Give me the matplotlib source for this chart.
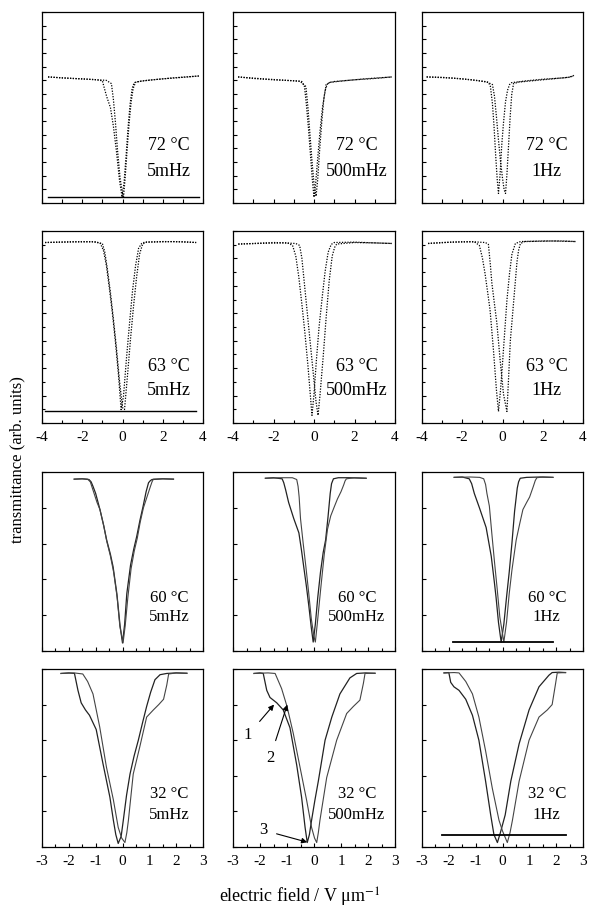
import matplotlib.pyplot as plt
from matplotlib.ticker import MultipleLocator, NullFormatter

plt.rcParams['font.family'] = ['Liberation Serif', 'DejaVu Serif']
plt.rcParams['mathtext.fontset'] = 'stix'
plt.rcParams['axes.unicode_minus'] = False

# 面板标签
temps = ['72 °C', '63 °C', '60 °C', '32 °C']
freqs = ['5mHz', '500mHz', '1Hz']

# ---- 72 °C ----
e72_5a = [-3.7, -3.0, -2.0, -1.3, -1.0, -0.9, -0.78, -0.6, -0.45, -0.3, -0.15, -0.02, 0.08, 0.18, 0.28, 0.38, 0.48, 0.58, 0.8, 1.5, 2.5, 3.8]
t72_5a = [0.660, 0.655, 0.650, 0.645, 0.640, 0.600, 0.555, 0.500, 0.400, 0.270, 0.120, 0.030, 0.110, 0.250, 0.400, 0.520, 0.600, 0.630, 0.636, 0.645, 0.655, 0.665]
e72_5b = [-3.7, -2.5, -1.5, -0.8, -0.55, -0.45, -0.35, -0.25, -0.12, 0.0, 0.05, 0.13, 0.23, 0.33, 0.43, 0.53, 0.65, 1.0, 2.0, 3.0, 3.8]
t72_5b = [0.660, 0.652, 0.647, 0.642, 0.625, 0.540, 0.420, 0.280, 0.130, 0.050, 0.030, 0.130, 0.280, 0.420, 0.530, 0.600, 0.632, 0.640, 0.650, 0.658, 0.665]

e72_500a = [-3.75, -3.0, -2.0, -1.0, -0.6, -0.47, -0.38, -0.28, -0.18, -0.08, 0.0, 0.08, 0.18, 0.3, 0.42, 0.55, 0.68, 1.0, 2.0, 3.0, 3.85]
t72_500a = [0.660, 0.652, 0.645, 0.640, 0.636, 0.610, 0.520, 0.400, 0.260, 0.120, 0.030, 0.100, 0.230, 0.380, 0.500, 0.590, 0.628, 0.636, 0.645, 0.652, 0.660]
e72_500b = [-3.75, -2.5, -1.5, -0.7, -0.4, -0.3, -0.2, -0.1, 0.0, 0.1, 0.18, 0.28, 0.38, 0.48, 0.6, 0.8, 1.5, 2.5, 3.85]
t72_500b = [0.660, 0.650, 0.643, 0.638, 0.610, 0.500, 0.360, 0.220, 0.100, 0.035, 0.120, 0.280, 0.420, 0.540, 0.620, 0.632, 0.640, 0.650, 0.660]

e72_1a = [-3.77, -3.0, -2.0, -1.2, -0.7, -0.6, -0.5, -0.42, -0.34, -0.26, -0.2, -0.12, -0.04, 0.05, 0.15, 0.25, 0.35, 0.45, 0.6, 1.2, 2.0, 3.0, 3.4, 3.55]
t72_1a = [0.660, 0.658, 0.650, 0.640, 0.632, 0.610, 0.520, 0.400, 0.250, 0.120, 0.050, 0.150, 0.300, 0.420, 0.530, 0.590, 0.620, 0.630, 0.632, 0.640, 0.648, 0.655, 0.660, 0.668]
e72_1b = [-3.77, -2.5, -1.5, -0.8, -0.5, -0.4, -0.3, -0.2, -0.1, 0.0, 0.08, 0.15, 0.22, 0.3, 0.38, 0.46, 0.55, 0.8, 1.5, 2.5, 3.3, 3.55]
t72_1b = [0.660, 0.654, 0.645, 0.635, 0.620, 0.560, 0.450, 0.330, 0.220, 0.130, 0.070, 0.050, 0.150, 0.300, 0.450, 0.570, 0.625, 0.633, 0.640, 0.650, 0.658, 0.668]

# ---- 63 °C ----
e63_5a = [-3.85, -3.0, -2.0, -1.3, -1.1, -0.95, -0.8, -0.65, -0.5, -0.35, -0.2, -0.07, 0.05, 0.2, 0.35, 0.5, 0.65, 0.8, 0.95, 1.1, 2.0, 3.0, 3.66]
t63_5a = [0.940, 0.942, 0.944, 0.944, 0.935, 0.900, 0.820, 0.700, 0.570, 0.420, 0.250, 0.070, 0.140, 0.340, 0.520, 0.690, 0.820, 0.910, 0.935, 0.942, 0.945, 0.944, 0.940]
e63_5b = [-3.85, -2.5, -1.5, -1.0, -0.88, -0.75, -0.6, -0.45, -0.3, -0.15, 0.0, 0.1, 0.25, 0.4, 0.55, 0.7, 0.85, 1.0, 1.2, 2.5, 3.66]
t63_5b = [0.940, 0.944, 0.944, 0.935, 0.890, 0.800, 0.680, 0.540, 0.390, 0.220, 0.080, 0.070, 0.250, 0.440, 0.610, 0.760, 0.880, 0.932, 0.942, 0.945, 0.940]

e63_500a = [-3.74, -3.0, -2.0, -1.3, -1.06, -0.9, -0.75, -0.6, -0.45, -0.3, -0.2, -0.1, 0.0, 0.12, 0.25, 0.4, 0.55, 0.7, 0.85, 1.0, 2.0, 3.0, 3.85]
t63_500a = [0.932, 0.935, 0.940, 0.938, 0.925, 0.870, 0.760, 0.620, 0.470, 0.300, 0.170, 0.040, 0.150, 0.330, 0.500, 0.650, 0.790, 0.890, 0.930, 0.940, 0.942, 0.938, 0.935]
e63_500b = [-3.74, -2.5, -1.5, -0.9, -0.71, -0.6, -0.45, -0.3, -0.15, 0.0, 0.1, 0.2, 0.3, 0.45, 0.6, 0.75, 0.9, 1.02, 1.12, 2.0, 3.0, 3.85]
t63_500b = [0.932, 0.936, 0.938, 0.935, 0.925, 0.860, 0.700, 0.540, 0.380, 0.220, 0.110, 0.040, 0.150, 0.340, 0.550, 0.740, 0.870, 0.915, 0.932, 0.940, 0.938, 0.935]

e63_1a = [-3.7, -3.0, -2.0, -1.4, -1.15, -1.0, -0.87, -0.75, -0.62, -0.45, -0.3, -0.2, -0.1, 0.0, 0.1, 0.22, 0.35, 0.47, 0.64, 0.9, 2.0, 3.0, 3.65]
t63_1a = [0.935, 0.940, 0.944, 0.944, 0.925, 0.860, 0.780, 0.690, 0.590, 0.380, 0.170, 0.060, 0.170, 0.310, 0.460, 0.640, 0.780, 0.880, 0.935, 0.945, 0.948, 0.948, 0.945]
e63_1b = [-3.7, -2.5, -1.5, -0.85, -0.7, -0.6, -0.53, -0.4, -0.28, -0.12, 0.05, 0.22, 0.3, 0.39, 0.48, 0.56, 0.64, 0.72, 0.8, 0.89, 1.1, 2.5, 3.65]
t63_1b = [0.935, 0.942, 0.944, 0.940, 0.930, 0.820, 0.730, 0.620, 0.520, 0.330, 0.150, 0.060, 0.230, 0.430, 0.540, 0.640, 0.740, 0.840, 0.900, 0.935, 0.945, 0.948, 0.945]

# ---- 60 °C ----
e60_5a = [-1.8, -1.5, -1.25, -1.17, -1.1, -1.0, -0.84, -0.7, -0.59, -0.45, -0.35, -0.21, -0.09, 0.0, 0.08, 0.16, 0.3, 0.42, 0.53, 0.65, 0.77, 0.88, 0.97, 1.04, 1.1, 1.5, 1.9]
t60_5a = [0.960, 0.962, 0.958, 0.945, 0.920, 0.880, 0.790, 0.700, 0.620, 0.540, 0.470, 0.320, 0.140, 0.045, 0.150, 0.320, 0.480, 0.570, 0.640, 0.730, 0.810, 0.890, 0.940, 0.952, 0.958, 0.962, 0.960]
e60_5b = [-1.8, -1.5, -1.3, -1.2, -1.08, -0.95, -0.84, -0.7, -0.59, -0.45, -0.33, -0.2, -0.1, 0.02, 0.1, 0.2, 0.32, 0.44, 0.55, 0.66, 0.78, 0.9, 1.02, 1.1, 1.15, 1.5, 1.9]
t60_5b = [0.960, 0.962, 0.960, 0.945, 0.890, 0.830, 0.790, 0.700, 0.615, 0.530, 0.440, 0.300, 0.140, 0.045, 0.140, 0.300, 0.460, 0.560, 0.630, 0.720, 0.800, 0.855, 0.910, 0.945, 0.960, 0.962, 0.960]

e60_500a = [-1.8, -1.5, -1.18, -1.12, -1.05, -0.94, -0.75, -0.56, -0.47, -0.38, -0.28, -0.19, -0.1, -0.03, 0.05, 0.14, 0.24, 0.34, 0.43, 0.52, 0.6, 0.65, 0.72, 0.9, 1.3, 1.93]
t60_500a = [0.965, 0.968, 0.962, 0.940, 0.900, 0.830, 0.740, 0.660, 0.570, 0.470, 0.360, 0.250, 0.130, 0.050, 0.150, 0.300, 0.440, 0.550, 0.620, 0.750, 0.880, 0.935, 0.962, 0.968, 0.968, 0.965]
e60_500b = [-1.8, -1.2, -0.8, -0.64, -0.59, -0.55, -0.5, -0.4, -0.3, -0.2, -0.1, 0.0, 0.05, 0.12, 0.25, 0.38, 0.5, 0.62, 0.75, 0.87, 1.0, 1.1, 1.15, 1.2, 1.5, 1.93]
t60_500b = [0.965, 0.968, 0.968, 0.958, 0.920, 0.860, 0.740, 0.600, 0.470, 0.330, 0.180, 0.080, 0.050, 0.150, 0.350, 0.540, 0.680, 0.755, 0.805, 0.850, 0.890, 0.928, 0.950, 0.962, 0.968, 0.965]

e60_1a = [-1.8, -1.5, -1.24, -1.15, -1.05, -0.86, -0.61, -0.42, -0.3, -0.24, -0.15, -0.05, 0.05, 0.15, 0.25, 0.35, 0.45, 0.55, 0.6, 0.66, 0.9, 1.4, 1.88]
t60_1a = [0.970, 0.972, 0.962, 0.935, 0.880, 0.800, 0.690, 0.530, 0.380, 0.300, 0.160, 0.050, 0.150, 0.300, 0.440, 0.600, 0.780, 0.910, 0.945, 0.965, 0.970, 0.972, 0.970]
e60_1b = [-1.8, -1.2, -0.85, -0.7, -0.63, -0.58, -0.49, -0.4, -0.3, -0.2, -0.1, 0.05, 0.15, 0.25, 0.35, 0.51, 0.64, 0.76, 0.9, 1.01, 1.15, 1.22, 1.28, 1.5, 1.88]
t60_1b = [0.970, 0.972, 0.970, 0.962, 0.930, 0.880, 0.810, 0.660, 0.500, 0.350, 0.190, 0.050, 0.160, 0.320, 0.450, 0.620, 0.710, 0.790, 0.830, 0.860, 0.920, 0.952, 0.968, 0.972, 0.970]

# ---- 32 °C ----
e32_5a = [-2.29, -2.0, -1.79, -1.66, -1.54, -1.38, -1.23, -0.98, -0.73, -0.47, -0.34, -0.25, -0.16, -0.05, 0.03, 0.15, 0.28, 0.43, 0.59, 0.75, 0.9, 1.05, 1.21, 1.4, 1.65, 2.0, 2.4]
t32_5a = [0.975, 0.978, 0.975, 0.880, 0.810, 0.770, 0.740, 0.660, 0.470, 0.280, 0.150, 0.070, 0.020, 0.060, 0.150, 0.290, 0.410, 0.510, 0.600, 0.700, 0.790, 0.870, 0.940, 0.968, 0.975, 0.978, 0.976]
e32_5b = [-2.29, -1.8, -1.48, -1.3, -1.1, -0.85, -0.6, -0.34, -0.16, -0.03, 0.09, 0.16, 0.22, 0.4, 0.64, 0.9, 1.15, 1.35, 1.53, 1.65, 1.72, 2.0, 2.4]
t32_5b = [0.975, 0.978, 0.972, 0.930, 0.860, 0.675, 0.450, 0.265, 0.110, 0.050, 0.025, 0.080, 0.150, 0.410, 0.560, 0.730, 0.770, 0.800, 0.830, 0.910, 0.972, 0.978, 0.976]

e32_500a = [-2.22, -2.0, -1.88, -1.75, -1.63, -1.38, -1.14, -0.89, -0.64, -0.46, -0.33, -0.25, -0.17, -0.09, 0.03, 0.16, 0.41, 0.66, 0.96, 1.33, 1.58, 1.9, 2.26]
t32_500a = [0.975, 0.978, 0.975, 0.880, 0.840, 0.810, 0.770, 0.670, 0.460, 0.280, 0.110, 0.025, 0.070, 0.150, 0.260, 0.370, 0.600, 0.730, 0.860, 0.950, 0.975, 0.978, 0.976]
e32_500b = [-2.22, -1.7, -1.44, -1.2, -1.0, -0.77, -0.52, -0.27, -0.09, 0.02, 0.1, 0.16, 0.22, 0.47, 0.84, 1.21, 1.46, 1.7, 1.83, 1.89, 2.26]
t32_500b = [0.975, 0.978, 0.975, 0.890, 0.790, 0.640, 0.450, 0.260, 0.110, 0.050, 0.025, 0.080, 0.150, 0.390, 0.600, 0.750, 0.790, 0.825, 0.920, 0.975, 0.976]

e32_1a = [-2.18, -2.0, -1.93, -1.81, -1.62, -1.37, -1.12, -0.88, -0.63, -0.44, -0.32, -0.19, -0.08, 0.1, 0.31, 0.62, 0.99, 1.36, 1.73, 1.85, 2.1, 2.35]
t32_1a = [0.978, 0.980, 0.925, 0.900, 0.880, 0.830, 0.740, 0.600, 0.370, 0.180, 0.070, 0.025, 0.080, 0.180, 0.370, 0.580, 0.770, 0.900, 0.965, 0.980, 0.982, 0.980]
e32_1b = [-2.18, -1.8, -1.62, -1.37, -1.12, -0.88, -0.63, -0.38, -0.13, 0.0, 0.18, 0.28, 0.37, 0.62, 0.99, 1.36, 1.67, 1.85, 1.98, 2.04, 2.35]
t32_1b = [0.978, 0.980, 0.978, 0.930, 0.860, 0.730, 0.540, 0.330, 0.150, 0.090, 0.025, 0.080, 0.150, 0.370, 0.600, 0.730, 0.770, 0.800, 0.920, 0.978, 0.980]

# 零透过率参考线
base_72_5_e, base_72_5_t = [-3.7, 3.8], [0.033, 0.033]
base_63_5_e, base_63_5_t = [-3.85, 3.66], [0.06, 0.06]
base_60_1_e, base_60_1_t = [-1.84, 1.9], [0.05, 0.05]
base_32_1_e, base_32_1_t = [-2.24, 2.35], [0.07, 0.07]

# 32 °C 500mHz 中的标注 (文字位置, 箭头终点)
ann_labels = ['1', '2', '3']
ann_text_e = [-2.44, -1.63, -1.89]
ann_text_t = [0.63, 0.50, 0.095]
ann_tip_e = [-1.48, -0.99, -0.25]
ann_tip_t = [0.80, 0.80, 0.027]

curves = [
    [(e72_5a, t72_5a, e72_5b, t72_5b), (e72_500a, t72_500a, e72_500b, t72_500b), (e72_1a, t72_1a, e72_1b, t72_1b)],
    [(e63_5a, t63_5a, e63_5b, t63_5b), (e63_500a, t63_500a, e63_500b, t63_500b), (e63_1a, t63_1a, e63_1b, t63_1b)],
    [(e60_5a, t60_5a, e60_5b, t60_5b), (e60_500a, t60_500a, e60_500b, t60_500b), (e60_1a, t60_1a, e60_1b, t60_1b)],
    [(e32_5a, t32_5a, e32_5b, t32_5b), (e32_500a, t32_500a, e32_500b, t32_500b), (e32_1a, t32_1a, e32_1b, t32_1b)],
]
baselines = {
    (0, 0): (base_72_5_e, base_72_5_t),
    (1, 0): (base_63_5_e, base_63_5_t),
    (2, 2): (base_60_1_e, base_60_1_t),
    (3, 2): (base_32_1_e, base_32_1_t),
}

# 版面 (像素)
W, H = 589, 908
col_left = [42, 233, 422]
col_width = [161, 162, 161]
row_top = [12, 231, 472, 669]
row_bot = [203, 423, 651, 847]
text_y = [(0.30, 0.165), (0.295, 0.17), (0.295, 0.19), (0.30, 0.18)]
text_x = [0.79, 0.765, 0.775]

fig = plt.figure(figsize=(W / 100, H / 100), dpi=100)

for r in range(4):
    for c in range(3):
        rect = [col_left[c] / W, 1 - row_bot[r] / H, col_width[c] / W, (row_bot[r] - row_top[r]) / H]
        ax = fig.add_axes(rect)
        ea, ta, eb, tb = curves[r][c]
        if r < 2:
            ls = (0, (1, 1.2))
            ax.plot(ea, ta, color='black', lw=0.9, ls=ls)
            ax.plot(eb, tb, color='black', lw=0.9, ls=ls)
        else:
            ax.plot(ea, ta, color='#222222', lw=0.9)
            ax.plot(eb, tb, color='#444444', lw=0.8)
        if (r, c) in baselines:
            be, bt = baselines[(r, c)]
            ax.plot(be, bt, color='black', lw=1.3 if r >= 2 else 1.0)

        ax.set_ylim(0, 1)
        if r < 2:
            ax.set_xlim(-4, 4)
        else:
            ax.set_xlim(-3, 3)

        # 刻度
        if r == 0:
            ax.xaxis.set_major_locator(MultipleLocator(1))
            ax.yaxis.set_major_locator(MultipleLocator(1 / 14))
        elif r == 1:
            ax.xaxis.set_major_locator(MultipleLocator(2))
            ax.xaxis.set_minor_locator(MultipleLocator(1))
            ax.yaxis.set_major_locator(MultipleLocator(1 / 7))
            ax.yaxis.set_minor_locator(MultipleLocator(1 / 14))
        else:
            ax.xaxis.set_major_locator(MultipleLocator(1))
            ax.xaxis.set_minor_locator(MultipleLocator(0.5))
            ax.yaxis.set_major_locator(MultipleLocator(0.2))
        ax.tick_params(which='both', direction='in', top=False, right=False,
                       length=3, width=0.8, labelsize=11, pad=6)
        ax.tick_params(which='minor', length=2.5)
        ax.yaxis.set_major_formatter(NullFormatter())
        if r in (0, 2):
            ax.xaxis.set_major_formatter(NullFormatter())
        for sp in ax.spines.values():
            sp.set_linewidth(0.9)

        fs = 13 if r < 2 else 12
        ax.text(text_x[c], text_y[r][0], temps[r], transform=ax.transAxes,
                ha='center', va='center', fontsize=fs)
        ax.text(text_x[c], text_y[r][1], freqs[c], transform=ax.transAxes,
                ha='center', va='center', fontsize=fs)

        if r == 3 and c == 1:
            for lab, xe, yt, xt, ytt in zip(ann_labels, ann_text_e, ann_text_t, ann_tip_e, ann_tip_t):
                ax.annotate(lab, xy=(xt, ytt), xytext=(xe, yt), fontsize=12,
                            ha='center', va='center',
                            arrowprops=dict(arrowstyle='-|>', color='black', lw=0.8,
                                            mutation_scale=8, shrinkA=5, shrinkB=0))

fig.text(17 / W, 1 - 460 / H, 'transmittance (arb. units)', rotation=90,
         ha='center', va='center', fontsize=12)
fig.text(300 / W, 1 - 897 / H, 'electric field / V μm$^{-1}$',
         ha='center', va='center', fontsize=13)

fig.savefig('out.png', dpi=100, facecolor='white')
